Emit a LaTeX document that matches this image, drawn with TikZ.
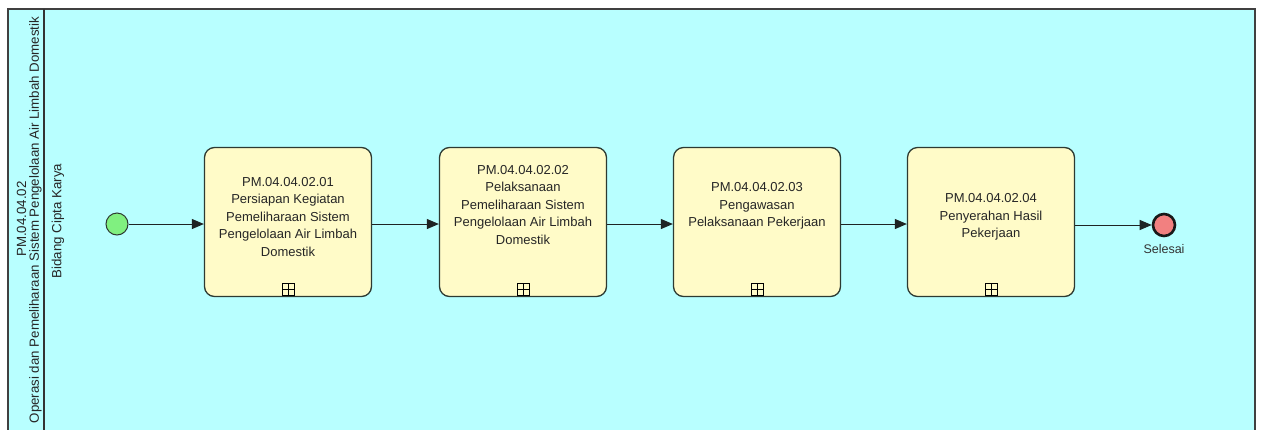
\documentclass[tikz,border=0pt]{standalone}
\usepackage{fontspec}
\setmainfont{Liberation Sans}
\usetikzlibrary{arrows.meta}
\definecolor{poolbg}{RGB}{184,255,255}
\definecolor{taskfill}{RGB}{255,251,200}
\definecolor{taskline}{RGB}{45,58,50}
\definecolor{startfill}{RGB}{128,240,128}
\definecolor{endfill}{RGB}{242,128,128}
\definecolor{flowline}{RGB}{30,35,35}
\tikzset{
  taskbox/.style={draw=taskline, line width=1.3pt, fill=taskfill, rounded corners=10pt,
    minimum width=167pt, minimum height=149pt, inner sep=0pt},
  tasktext/.style={align=center, font=\fontsize{13}{17.5}\selectfont, text=black!85, inner sep=0pt},
  plusbox/.style={draw=black, line width=1pt, fill=taskfill, minimum size=12pt, inner sep=0pt,
    path picture={\draw[line width=0.9pt] (path picture bounding box.north) -- (path picture bounding box.south)
      (path picture bounding box.west) -- (path picture bounding box.east);}},
  startev/.style={circle, draw=taskline, line width=1pt, fill=startfill, minimum size=22pt, inner sep=0pt},
  endev/.style={circle, draw=black!90, line width=2.6pt, fill=endfill, minimum size=22pt, inner sep=0pt},
  flow/.style={draw=flowline, line width=1pt, -{Triangle[length=12pt,width=10pt]}},
  hdrtext/.style={font=\fontsize{13.3}{15}\selectfont, text=black!85, inner sep=0pt, rotate=90}
}
\begin{document}
\begin{tikzpicture}[x=1pt,y=-1pt]
\useasboundingbox (0,0) rectangle (1263,429);
\begin{scope}
\clip (0,0) rectangle (1263,429);
\fill[poolbg] (8,9) rectangle (1255,440);
\draw[black!75, line width=1.2pt] (8,440) -- (8,9) -- (1255,9) -- (1255,440);
\draw[black!80, line width=1.4pt] (44,9) -- (44,440);
\end{scope}
\node[hdrtext] (pid) at (21.5,219) {PM.04.04.02};
\node[hdrtext] (pname) at (35.5,220) {Operasi dan Pemeliharaan Sistem Pengelolaan Air Limbah Domestik};
\node[hdrtext] (lane) at (58,221) {Bidang Cipta Karya};

\node[startev] (start) at (117,224) {};
\node[taskbox] (t1) at (288,222) {};
\node[taskbox] (t2) at (523,222) {};
\node[taskbox] (t3) at (757,222) {};
\node[taskbox] (t4) at (991,222) {};
\node[endev] (end) at (1164,225) {};
\node[font=\fontsize{12.5}{14}\selectfont, text=black!80, anchor=north, inner sep=0pt] (endlbl) at (1164,244) {Selesai};

\node[tasktext] (t1txt) at (288,217) {PM.04.04.02.01\\Persiapan Kegiatan\\Pemeliharaan Sistem\\Pengelolaan Air Limbah\\Domestik};
\node[tasktext] (t2txt) at (523,205) {PM.04.04.02.02\\Pelaksanaan\\Pemeliharaan Sistem\\Pengelolaan Air Limbah\\Domestik};
\node[tasktext] (t3txt) at (757,206) {PM.04.04.02.03\\Pengawasan\\Pelaksanaan Pekerjaan};
\node[tasktext] (t4txt) at (991,217) {PM.04.04.02.04\\Penyerahan Hasil\\Pekerjaan};

\foreach \t/\x in {t1/288,t2/523,t3/757,t4/991}{
  \node[plusbox, anchor=south] (\t plus) at (\x,296) {};
}

\draw[flow] (start) -- (t1.west |- start);
\draw[flow] (t1.east |- start) -- (t2.west |- start);
\draw[flow] (t2.east |- start) -- (t3.west |- start);
\draw[flow] (t3.east |- start) -- (t4.west |- start);
\draw[flow] (t4.east |- end) -- (end);
\end{tikzpicture}
\end{document}
